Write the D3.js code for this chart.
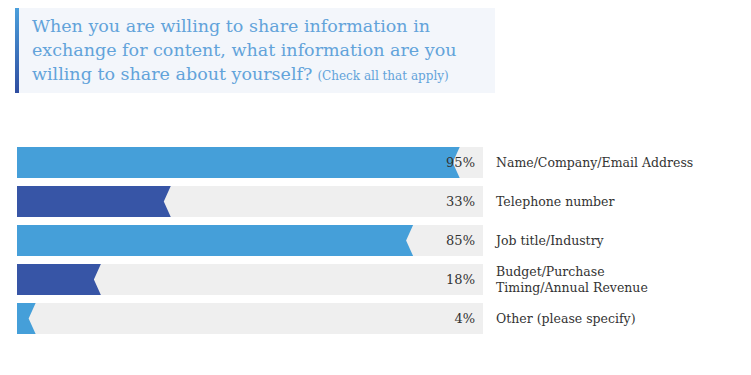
<!DOCTYPE html>
<html>
<head>
<meta charset="utf-8">
<script src="https://cdn.jsdelivr.net/npm/d3@7"></script>
<style>
  body { margin: 0; background: #fff; }
</style>
</head>
<body>
<script>
// DATA
const categories = [
  ["Name/Company/Email Address"],
  ["Telephone number"],
  ["Job title/Industry"],
  ["Budget/Purchase", "Timing/Annual Revenue"],
  ["Other (please specify)"]
];
const values = [95, 33, 85, 18, 4];
const barColors = ["#459fd9", "#3755a6", "#459fd9", "#3755a6", "#459fd9"];
const titleLines = [
  "When you are willing to share information in",
  "exchange for content, what information are you",
  "willing to share about yourself?"
];
const titleNote = "(Check all that apply)";

const width = 751, height = 375;
const serif = "'DejaVu Serif', serif";

const svg = d3.select("body").append("svg")
  .attr("width", width)
  .attr("height", height);

// TITLE BOX
const grad = svg.append("defs").append("linearGradient")
  .attr("id", "edge").attr("x1", 0).attr("y1", 0).attr("x2", 0).attr("y2", 1);
grad.append("stop").attr("offset", "0%").attr("stop-color", "#4a9fdc");
grad.append("stop").attr("offset", "100%").attr("stop-color", "#2f4da0");

svg.append("rect").attr("x", 19).attr("y", 8).attr("width", 476).attr("height", 85)
  .attr("fill", "#f3f6fb");
svg.append("rect").attr("x", 15).attr("y", 8).attr("width", 4).attr("height", 85)
  .attr("fill", "url(#edge)");

const title = svg.append("text")
  .attr("font-family", serif)
  .attr("fill", "#62a3da");
titleLines.forEach((t, i) => {
  title.append("tspan")
    .attr("x", 32).attr("y", 32 + i * 24)
    .attr("font-size", 17.5)
    .text(t);
});
title.append("tspan")
  .attr("dx", 5)
  .attr("font-size", 12)
  .text(titleNote);

// SCALES
const X = d3.scaleLinear().domain([0, 100]).range([17, 483]);
const Y = d3.scaleBand().domain(d3.range(values.length))
  .range([147, 334]).paddingInner(8 / 39).paddingOuter(0);

const rows = svg.selectAll(".row").data(values).enter()
  .append("g").classed("row", true);

rows.append("rect")
  .attr("x", X(0)).attr("y", (d, i) => Y(i))
  .attr("width", X(100) - X(0)).attr("height", Y.bandwidth())
  .attr("fill", "#efefef");

const notch = 7;
rows.append("path")
  .attr("d", (d, i) => {
    const y0 = Y(i), y1 = Y(i) + Y.bandwidth(), ym = (y0 + y1) / 2;
    const xv = X(d);
    return `M${X(0)},${y0}L${xv},${y0}L${xv - notch},${ym}L${xv},${y1}L${X(0)},${y1}Z`;
  })
  .attr("fill", (d, i) => barColors[i]);

rows.append("text")
  .attr("x", 475)
  .attr("y", (d, i) => Y(i) + Y.bandwidth() / 2)
  .attr("dy", "0.35em")
  .attr("text-anchor", "end")
  .attr("font-family", serif)
  .attr("font-size", 13)
  .attr("fill", "#333")
  .text(d => d + "%");

const labels = rows.append("text")
  .attr("font-family", serif)
  .attr("font-size", 12.5)
  .attr("fill", "#333");
labels.each(function(d, i) {
  const lines = categories[i];
  const mid = Y(i) + Y.bandwidth() / 2;
  d3.select(this).selectAll("tspan").data(lines).enter().append("tspan")
    .attr("x", 496)
    .attr("y", (l, j) => mid + (j - (lines.length - 1) / 2) * 16)
    .attr("dy", "0.35em")
    .text(l => l);
});
</script>
</body>
</html>
